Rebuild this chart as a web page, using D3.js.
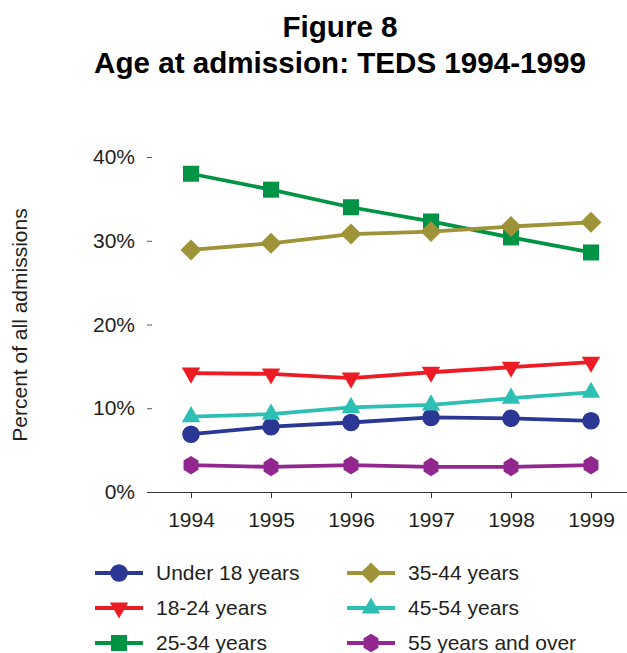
<!DOCTYPE html>
<html>
<head>
<meta charset="utf-8">
<script src="https://cdn.jsdelivr.net/npm/d3@7"></script>
<style>
  body { margin: 0; background: #fff; }
  svg text { font-family: "Liberation Sans", Arial, sans-serif; fill: #231f20; }
</style>
</head>
<body>
<svg id="chart" width="627" height="653"></svg>
<script>
// data
var years = [1994, 1995, 1996, 1997, 1998, 1999],
    yTicks = [0, 10, 20, 30, 40],
    under18 = [6.9, 7.8, 8.3, 8.9, 8.8, 8.5],
    age18to24 = [14.2, 14.1, 13.6, 14.3, 14.9, 15.5],
    age25to34 = [38.0, 36.1, 34.0, 32.3, 30.4, 28.6],
    age35to44 = [28.9, 29.7, 30.8, 31.1, 31.7, 32.2],
    age45to54 = [9.0, 9.3, 10.1, 10.4, 11.2, 11.9],
    age55plus = [3.2, 3.0, 3.2, 3.0, 3.0, 3.2];

var labels = ["Under 18 years", "18-24 years", "25-34 years",
              "35-44 years", "45-54 years", "55 years and over"];

// custom marker shapes, size = half width
var shapes = {
  circle: { draw: function(c, r) { c.moveTo(r, 0); c.arc(0, 0, r, 0, 2 * Math.PI); } },
  triDown: { draw: function(c, r) { c.moveTo(-r, -r * 0.6); c.lineTo(r, -r * 0.6); c.lineTo(0, r * 1.15); c.closePath(); } },
  square: { draw: function(c, r) { c.rect(-r, -r, 2 * r, 2 * r); } },
  diamond: { draw: function(c, r) { c.moveTo(0, -r); c.lineTo(r, 0); c.lineTo(0, r); c.lineTo(-r, 0); c.closePath(); } },
  triUp: { draw: function(c, r) { c.moveTo(-r, r * 0.6); c.lineTo(r, r * 0.6); c.lineTo(0, -r * 1.15); c.closePath(); } },
  hexagon: { draw: function(c, r) {
    for (var i = 0; i < 6; i++) {
      var a = Math.PI / 2 + i * Math.PI / 3;
      if (i == 0) c.moveTo(r * Math.cos(a), -r * Math.sin(a) * 1.08);
      else c.lineTo(r * Math.cos(a), -r * Math.sin(a) * 1.08);
    }
    c.closePath();
  } }
};

var series = [
  { name: labels[0], values: under18, color: "#2b3794", shape: shapes.circle, r: 8.8 },
  { name: labels[1], values: age18to24, color: "#ed1c24", shape: shapes.triDown, r: 9.2 },
  { name: labels[2], values: age25to34, color: "#009444", shape: shapes.square, r: 8 },
  { name: labels[3], values: age35to44, color: "#9e9338", shape: shapes.diamond, r: 10.5 },
  { name: labels[4], values: age45to54, color: "#2ebfb4", shape: shapes.triUp, r: 9.2 },
  { name: labels[5], values: age55plus, color: "#92278f", shape: shapes.hexagon, r: 8.6 }
];

var svg = d3.select("#chart");

var x = d3.scalePoint()
    .domain(years)
    .range([191, 591]);

var y = d3.scaleLinear()
    .domain([0, 40])
    .range([492, 157]);

// title
svg.append("text")
    .attr("x", 340).attr("y", 37)
    .attr("text-anchor", "middle")
    .style("font-size", "29.6px").style("font-weight", "bold").style("fill", "#000")
    .text("Figure 8");
svg.append("text")
    .attr("x", 340).attr("y", 73)
    .attr("text-anchor", "middle")
    .style("font-size", "29.6px").style("font-weight", "bold").style("fill", "#000")
    .text("Age at admission: TEDS 1994-1999");

// y axis: ticks only, no line
var yAxis = svg.append("g")
    .attr("transform", "translate(152,0)")
    .call(d3.axisLeft(y).tickValues(yTicks).tickSize(5).tickPadding(12)
      .tickFormat(function(d) { return d + "%"; }));
yAxis.select(".domain").remove();
yAxis.selectAll(".tick line").attr("stroke", "#555");
yAxis.selectAll("text").style("font-size", "21px").style("fill", "#231f20").style("font-family", "Liberation Sans, Arial, sans-serif");

// x axis
var xAxis = svg.append("g")
    .attr("transform", "translate(0,492)")
    .call(d3.axisBottom(x).tickSize(6).tickPadding(14).tickSizeOuter(0));
xAxis.select(".domain").attr("d", "M147,0.5H627").attr("stroke", "#333");
xAxis.selectAll(".tick line").attr("stroke", "#333");
xAxis.selectAll("text").style("font-size", "21px").style("fill", "#231f20").style("font-family", "Liberation Sans, Arial, sans-serif");

// y label
svg.append("text")
    .attr("transform", "translate(27,325) rotate(-90)")
    .attr("text-anchor", "middle")
    .style("font-size", "21px")
    .text("Percent of all admissions");

// lines and markers
var line = d3.line()
    .x(function(d, i) { return x(years[i]); })
    .y(function(d) { return y(d); });

var g = svg.append("g");
series.forEach(function(s) {
  g.append("path")
      .attr("d", line(s.values))
      .attr("fill", "none")
      .attr("stroke", s.color)
      .attr("stroke-width", 3.8);
});
series.forEach(function(s) {
  g.selectAll(null)
      .data(s.values)
      .enter().append("path")
      .attr("transform", function(d, i) { return "translate(" + x(years[i]) + "," + y(d) + ")"; })
      .attr("d", d3.symbol().type(s.shape).size(s.r))
      .attr("fill", s.color);
});

// legend
var legend = svg.append("g");
var legX = [95, 347], legY = [573, 608, 643];
series.forEach(function(s, i) {
  var lx = legX[Math.floor(i / 3)], ly = legY[i % 3];
  var item = legend.append("g").attr("transform", "translate(" + lx + "," + ly + ")");
  item.append("line")
      .attr("x1", 0).attr("x2", 48)
      .attr("stroke", s.color).attr("stroke-width", 3.8);
  item.append("path")
      .attr("transform", "translate(24,0)")
      .attr("d", d3.symbol().type(s.shape).size(s.r))
      .attr("fill", s.color);
  item.append("text")
      .attr("x", 61).attr("dy", "0.35em")
      .style("font-size", "21px")
      .text(s.name);
});
</script>
</body>
</html>
